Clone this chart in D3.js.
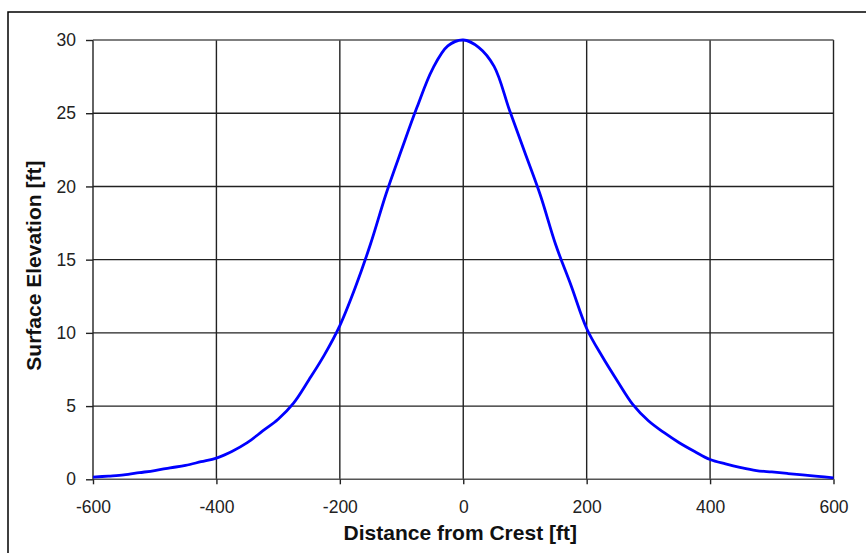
<!DOCTYPE html>
<html><head><meta charset="utf-8">
<script src="https://cdn.jsdelivr.net/npm/d3@7"></script>
<style>body{margin:0;background:#fff}svg{display:block}</style>
</head><body>
<svg id="c" width="866" height="553"></svg>
<script>
const distance = [-600,-575,-550,-525,-500,-475,-450,-425,-400,-375,-350,-325,-300,-275,-250,-225,-200,-175,-150,-125,-100,-75,-50,-25,0,
  25,50,75,100,125,150,175,200,225,250,275,300,325,350,375,400,425,450,475,500,525,550,575,600];
const elevation = [0.15,0.22,0.3,0.45,0.6,0.78,0.95,1.2,1.45,1.9,2.5,3.3,4.1,5.2,6.8,8.5,10.5,13.1,16.1,19.5,22.5,25.4,28.0,29.6,30,
  29.5,28.2,25.2,22.3,19.4,16.0,13.2,10.3,8.4,6.7,5.1,4.0,3.2,2.5,1.9,1.35,1.05,0.8,0.6,0.5,0.4,0.3,0.2,0.1];
const xTicks = [-600,-400,-200,0,200,400,600];
const yTicks = [0,5,10,15,20,25,30];
const xTitle = "Distance from Crest [ft]";
const yTitle = "Surface Elevation [ft]";

const svg = d3.select("#c");
const L = 93, R = 833.5, T = 40, B = 479.3;
const x = d3.scaleLinear().domain([-600,600]).range([L,R]);
const y = d3.scaleLinear().domain([0,30]).range([B,T]);

// outer frame
svg.append("rect").attr("x",8).attr("y",12).attr("width",900).attr("height",600)
  .attr("fill","none").attr("stroke","#000").attr("stroke-width",1.5);

// grid
const g = svg.append("g");
g.selectAll(".hg").data(yTicks.filter(d=>d>0 && d<30)).join("line")
  .attr("x1",L).attr("x2",R).attr("y1",d=>y(d)).attr("y2",d=>y(d))
  .attr("stroke","#222").attr("stroke-width",1.4);
g.selectAll(".vg").data(xTicks).join("line")
  .attr("x1",d=>x(d)).attr("x2",d=>x(d)).attr("y1",T).attr("y2",B)
  .attr("stroke","#222").attr("stroke-width",1.4);
[30,0].forEach(v=>{
  g.append("line").attr("x1",L).attr("x2",R).attr("y1",y(v)).attr("y2",y(v))
   .attr("stroke","#555").attr("stroke-width",1.4);
});

// axes
const fontFam = "'Liberation Sans', Arial, sans-serif";
const fmt = d => String(d);
const yAx = svg.append("g").attr("transform",`translate(${L},0)`)
  .call(d3.axisLeft(y).tickValues(yTicks).tickFormat(fmt).tickSize(7).tickPadding(10));
const xAx = svg.append("g").attr("transform",`translate(0,${B})`)
  .call(d3.axisBottom(x).tickValues(xTicks).tickFormat(fmt).tickSize(5).tickPadding(16));
[yAx,xAx].forEach(a=>{
  a.select(".domain").remove();
  a.selectAll(".tick line").attr("stroke","#222").attr("stroke-width",1.4);
  a.selectAll(".tick text").attr("fill","#222").style("font-family",fontFam).style("font-size","17.5px");
});

// line
const line = d3.line().x((d,i)=>x(distance[i])).y(d=>y(d)).curve(d3.curveCatmullRom);
svg.append("path").datum(elevation).attr("d",line)
  .attr("fill","none").attr("stroke","#0000ff").attr("stroke-width",2.8).attr("stroke-linejoin","round");

// titles
svg.append("text").attr("x",(L+R)/2-3).attr("y",540).attr("text-anchor","middle")
  .style("font-family",fontFam).style("font-weight","bold").style("font-size","21px").attr("fill","#111")
  .text(xTitle);
svg.append("text").attr("transform",`translate(41,${(T+B)/2+6}) rotate(-90)`).attr("text-anchor","middle")
  .style("font-family",fontFam).style("font-weight","bold").style("font-size","21px").attr("fill","#111")
  .text(yTitle);
</script>
</body></html>
